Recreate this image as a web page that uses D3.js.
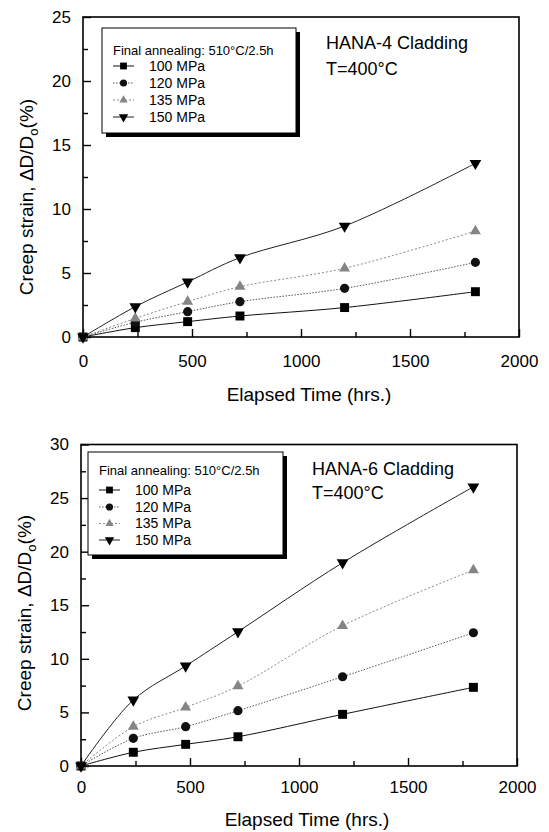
<!DOCTYPE html>
<html>
<head>
<meta charset="utf-8">
<script src="https://cdn.jsdelivr.net/npm/d3@7"></script>
<style>
  html, body { margin: 0; padding: 0; background: #fff; }
  svg { display: block; font-family: Arial, "Liberation Sans", Helvetica, sans-serif; }
</style>
</head>
<body>
<div id="chart"></div>
<script>
// --- data
const hours = [0, 240, 480, 720, 1200, 1800];
const stressLabels = ["100 MPa", "120 MPa", "135 MPa", "150 MPa"];
const legendTitle = "Final annealing: 510°C/2.5h";

const hana4Strain100 = [0, 0.73, 1.2, 1.64, 2.3, 3.54];
const hana4Strain120 = [0, 1.15, 1.98, 2.76, 3.8, 5.83];
const hana4Strain135 = [0, 1.45, 2.76, 3.93, 5.37, 8.28];
const hana4Strain150 = [0, 2.37, 4.3, 6.2, 8.67, 13.57];

const hana6Strain100 = [0, 1.28, 2.02, 2.73, 4.82, 7.34];
const hana6Strain120 = [0, 2.58, 3.67, 5.16, 8.33, 12.43];
const hana6Strain135 = [0, 3.67, 5.47, 7.46, 13.09, 18.28];
const hana6Strain150 = [0, 6.16, 9.33, 12.53, 18.97, 26.05];

const xMajorTicks = [0, 500, 1000, 1500, 2000];
const xMinorTicks = [250, 750, 1250, 1750];
const hana4YTicks = [0, 5, 10, 15, 20, 25];
const hana4YMinor = [2.5, 7.5, 12.5, 17.5, 22.5];
const hana6YTicks = [0, 5, 10, 15, 20, 25, 30];
const hana6YMinor = [2.5, 7.5, 12.5, 17.5, 22.5, 27.5];

// --- marker / line look per stress level
const seriesStyle = [
    {symbol: d3.symbolSquare,   size: 80, legendSize: 46, fill: "#000",    line: "#111", dash: null,      flip: false},
    {symbol: d3.symbolCircle,   size: 66, legendSize: 40, fill: "#111",    line: "#555", dash: "1.5,1.5", flip: false},
    {symbol: d3.symbolTriangle, size: 52, legendSize: 30, fill: "#858585", line: "#8a8a8a", dash: "2,2",   flip: false},
    {symbol: d3.symbolTriangle, size: 60, legendSize: 38, fill: "#000",    line: "#222", dash: null,      flip: true}
];

const W = 549, H = 832;

const svg = d3.select("#chart").append("svg")
    .attr("width", W)
    .attr("height", H);

function drawPanel(p) {
    const x = d3.scaleLinear().domain([0, 2000]).range([p.left, p.right]);
    const y = d3.scaleLinear().domain([0, p.yMax]).range([p.bottom, p.top]);
    const g = svg.append("g");

    // axes, ticks point inward
    g.append("g")
        .attr("transform", `translate(0,${p.bottom})`)
        .call(d3.axisBottom(x).tickValues(xMajorTicks).tickSize(-8).tickPadding(p.xPad).tickFormat(d3.format("d")))
        .call(a => a.select(".domain").remove());
    g.append("g")
        .attr("transform", `translate(0,${p.bottom})`)
        .call(d3.axisBottom(x).tickValues(xMinorTicks).tickSize(-5).tickFormat(""))
        .call(a => a.select(".domain").remove());
    g.append("g")
        .attr("transform", `translate(${p.left},0)`)
        .call(d3.axisLeft(y).tickValues(p.yTicks).tickSize(-8).tickPadding(12).tickFormat(d3.format("d")))
        .call(a => a.select(".domain").remove());
    g.append("g")
        .attr("transform", `translate(${p.left},0)`)
        .call(d3.axisLeft(y).tickValues(p.yMinor).tickSize(-5).tickFormat(""))
        .call(a => a.select(".domain").remove());

    g.selectAll(".tick line").attr("stroke", "#000").attr("stroke-width", 1.4);
    g.selectAll(".tick text").attr("font-size", 17).attr("fill", "#000")
        .attr("font-family", "Arial, 'Liberation Sans', sans-serif");

    // curves
    const line = d3.line()
        .x((d, i) => x(hours[i]))
        .y(d => y(d))
        .curve(d3.curveCatmullRom.alpha(0.5));

    p.series.forEach((vals, k) => {
        const st = seriesStyle[k];
        g.append("path")
            .attr("d", line(vals))
            .attr("fill", "none")
            .attr("stroke", st.line)
            .attr("stroke-width", 1)
            .attr("stroke-dasharray", st.dash);
    });
    p.series.forEach((vals, k) => {
        const st = seriesStyle[k];
        g.selectAll(null)
            .data(vals)
            .enter().append("path")
            .attr("d", d3.symbol().type(st.symbol).size(st.size))
            .attr("transform", (d, i) => `translate(${x(hours[i])},${y(d)})` + (st.flip ? " rotate(180)" : ""))
            .attr("fill", st.fill);
    });

    // frame
    g.append("rect")
        .attr("x", p.left).attr("y", p.top)
        .attr("width", p.right - p.left).attr("height", p.bottom - p.top)
        .attr("fill", "none").attr("stroke", "#000").attr("stroke-width", 1.6);

    // legend with drop shadow
    const lg = p.legend;
    g.append("rect")
        .attr("x", lg.x + 4).attr("y", lg.y + 4)
        .attr("width", lg.w).attr("height", lg.h)
        .attr("fill", "#000");
    g.append("rect")
        .attr("x", lg.x).attr("y", lg.y)
        .attr("width", lg.w).attr("height", lg.h)
        .attr("fill", "#fff").attr("stroke", "#000").attr("stroke-width", 1);
    g.append("text")
        .attr("x", lg.x + lg.pad).attr("y", lg.titleY)
        .attr("dy", "0.35em")
        .attr("font-size", 13)
        .text(legendTitle);
    stressLabels.forEach((lab, k) => {
        const st = seriesStyle[k];
        const cy = lg.rowY[k];
        const sx = lg.x + lg.pad;
        g.append("line")
            .attr("x1", sx).attr("x2", sx + 21)
            .attr("y1", cy).attr("y2", cy)
            .attr("stroke", st.line).attr("stroke-width", 1)
            .attr("stroke-dasharray", st.dash);
        g.append("path")
            .attr("d", d3.symbol().type(st.symbol).size(st.legendSize))
            .attr("transform", `translate(${sx + 10.5},${cy})` + (st.flip ? " rotate(180)" : ""))
            .attr("fill", st.fill);
        g.append("text")
            .attr("x", sx + 36).attr("y", cy)
            .attr("dy", "0.35em")
            .attr("font-size", 14)
            .text(lab);
    });

    // annotation
    g.append("text").attr("x", p.note.x).attr("y", p.note.y1)
        .attr("font-size", 18).text(p.name + " Cladding");
    g.append("text").attr("x", p.note.x).attr("y", p.note.y2)
        .attr("font-size", 18).text("T=400°C");

    // axis titles
    g.append("text")
        .attr("x", (p.left + p.right) / 2 + 8).attr("y", p.xTitleY)
        .attr("text-anchor", "middle")
        .attr("font-size", 19)
        .text("Elapsed Time (hrs.)");

    const yt = g.append("text")
        .attr("transform", `translate(${p.yTitleX},${p.yTitleY}) rotate(-90)`)
        .attr("text-anchor", "middle")
        .attr("font-size", 19);
    yt.append("tspan").text("Creep strain, \u0394D/D");
    yt.append("tspan").attr("dy", 5).attr("font-size", 13).text("o");
    yt.append("tspan").attr("dy", -5).text("(%)");
}

drawPanel({
    name: "HANA-4",
    left: 83, right: 519, top: 17, bottom: 337, yMax: 25,
    yTicks: hana4YTicks, yMinor: hana4YMinor, xPad: 18,
    series: [hana4Strain100, hana4Strain120, hana4Strain135, hana4Strain150],
    legend: {x: 102, y: 28, w: 194, h: 105, pad: 11, titleY: 50, rowY: [66, 83, 100, 117]},
    note: {x: 326, y1: 49, y2: 75},
    xTitleY: 401, yTitleX: 33, yTitleY: 197
});

drawPanel({
    name: "HANA-6",
    left: 81, right: 517, top: 444.5, bottom: 766, yMax: 30,
    yTicks: hana6YTicks, yMinor: hana6YMinor, xPad: 15,
    series: [hana6Strain100, hana6Strain120, hana6Strain135, hana6Strain150],
    legend: {x: 88, y: 452, w: 195, h: 103, pad: 11, titleY: 470, rowY: [490, 507, 523.5, 540]},
    note: {x: 312, y1: 475, y2: 499},
    xTitleY: 826, yTitleX: 31, yTitleY: 613
});
</script>
</body>
</html>
